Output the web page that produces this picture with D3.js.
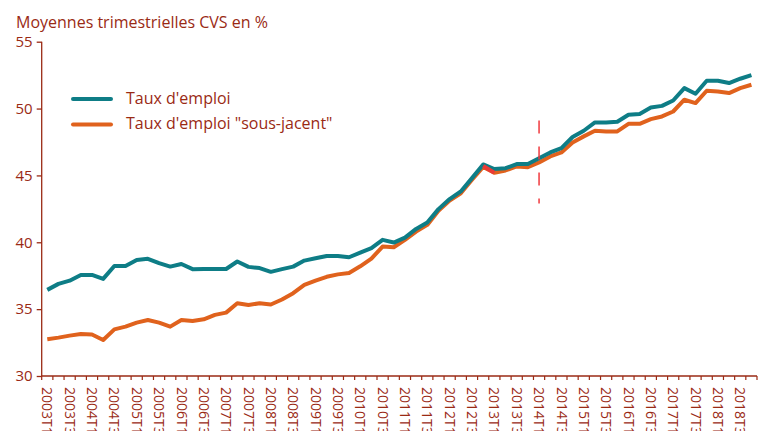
<!DOCTYPE html>
<html>
<head>
<meta charset="utf-8">
<script src="https://cdn.jsdelivr.net/npm/d3@7"></script>
<style>
  body { margin: 0; background: #fff; }
  svg { display: block; font-family: 'Open Sans', 'Noto Sans', sans-serif; }
</style>
</head>
<body>
<div id="chart"></div>
<script>
// quarters 2003T1 .. 2018T4
const quarters = [];
const years = [2003, 2004, 2005, 2006, 2007, 2008, 2009, 2010, 2011, 2012, 2013, 2014, 2015, 2016, 2017, 2018];
years.forEach(y => ['T1', 'T2', 'T3', 'T4'].forEach(q => quarters.push(y + q)));

const tauxEmploi = [
  36.44, 36.89, 37.13, 37.56, 37.56, 37.26, 38.23, 38.23,
  38.68, 38.76, 38.44, 38.18, 38.38, 37.99, 38.0, 38.0,
  38.0, 38.56, 38.16, 38.07, 37.79, 37.99, 38.18, 38.63,
  38.81, 38.98, 38.98, 38.88, 39.23, 39.56, 40.18, 39.98,
  40.35, 41.0, 41.48, 42.48, 43.23, 43.8, 44.8, 45.82,
  45.48, 45.54, 45.85, 45.85, 46.29, 46.72, 47.04, 47.87,
  48.34, 48.96, 48.96, 49.01, 49.54, 49.6, 50.08, 50.2,
  50.6, 51.53, 51.11, 52.08, 52.08, 51.91, 52.23, 52.5
];

const tauxSousJacent = [
  32.75, 32.87, 33.02, 33.14, 33.1, 32.69, 33.49, 33.69,
  33.99, 34.19, 33.99, 33.69, 34.19, 34.12, 34.24, 34.57,
  34.74, 35.44, 35.31, 35.44, 35.35, 35.72, 36.19, 36.81,
  37.13, 37.42, 37.6, 37.71, 38.2, 38.78, 39.68, 39.63,
  40.18, 40.8, 41.3, 42.35, 43.12, 43.67, 44.67, 45.64,
  45.2, 45.37, 45.67, 45.62, 45.97, 46.42, 46.72, 47.47,
  47.92, 48.34, 48.29, 48.29, 48.86, 48.86, 49.21, 49.41,
  49.78, 50.66, 50.41, 51.33, 51.28, 51.16, 51.53, 51.78
];

// small red piece drawn over the orange line
const redQuarters = ['2012T4', '2013T1'];
const redValues = [45.7, 45.2];

// vertical dashed marker
const markerQuarter = '2014T1';
const markerRange = [42.9, 49.1];

const yTicks = [30, 35, 40, 45, 50, 55];
const tickLabels = quarters.filter((d, i) => i % 2 === 0);

const legendLabels = ["Taux d'emploi", 'Taux d\'emploi "sous-jacent"'];

const W = 769, H = 431;
const axisColor = '#9a2a14';
const tealColor = '#0e7d86';
const orangeColor = '#e0621d';

const svg = d3.select('#chart').append('svg')
  .attr('width', W)
  .attr('height', H);

const x = d3.scaleBand()
  .domain(quarters)
  .range([41.7, 757]);

const y = d3.scaleLinear()
  .domain([30, 55])
  .range([376, 41.7]);

const cx = d => x(d) + x.bandwidth() / 2;

// title
svg.append('text')
  .attr('x', 16)
  .attr('y', 28)
  .attr('fill', axisColor)
  .style('font-size', '16px')
  .text('Moyennes trimestrielles CVS en %');

// y axis
const yAxis = svg.append('g')
  .attr('transform', 'translate(41.7,0)')
  .call(d3.axisLeft(y).tickValues(yTicks).tickSize(5).tickPadding(4));
yAxis.selectAll('path, line').attr('stroke', axisColor).attr('stroke-width', 1.3);
yAxis.select('.domain').attr('d', 'M0,' + y(55) + 'V' + y(30));
yAxis.selectAll('text')
  .attr('fill', axisColor)
  .style('font-size', '15px')
  .style('font-family', "'Open Sans', sans-serif");

// x axis: ticks at band boundaries
const xAxis = svg.append('g').attr('transform', 'translate(0,376)');
xAxis.append('line')
  .attr('x1', x.range()[0]).attr('x2', x.range()[1])
  .attr('stroke', axisColor).attr('stroke-width', 1.3);
xAxis.selectAll('.tick-mark')
  .data(quarters.concat(['end']))
  .enter().append('line')
  .attr('x1', (d, i) => x.range()[0] + i * x.step())
  .attr('x2', (d, i) => x.range()[0] + i * x.step())
  .attr('y1', 0).attr('y2', 4)
  .attr('stroke', axisColor).attr('stroke-width', 1.2);
xAxis.selectAll('.lab')
  .data(tickLabels)
  .enter().append('text')
  .attr('transform', d => 'translate(' + cx(d) + ',11) rotate(90)')
  .attr('dy', '0.35em')
  .attr('fill', axisColor)
  .style('font-size', '14px')
  .text(d => d);

// lines
const line = d3.line()
  .x(d => cx(d.q))
  .y(d => y(d.v));

const series = [
  { values: tauxSousJacent, color: orangeColor },
  { values: tauxEmploi, color: tealColor }
];

svg.selectAll('.serie')
  .data(series)
  .enter().append('path')
  .attr('d', s => line(s.values.map((v, i) => ({ q: quarters[i], v: v }))))
  .attr('fill', 'none')
  .attr('stroke', s => s.color)
  .attr('stroke-width', 4)
  .attr('stroke-linejoin', 'round');

svg.append('path')
  .attr('d', line(redValues.map((v, i) => ({ q: redQuarters[i], v: v }))))
  .attr('fill', 'none')
  .attr('stroke', '#ea3a36')
  .attr('stroke-width', 4);

// dashed marker
svg.append('line')
  .attr('x1', cx(markerQuarter)).attr('x2', cx(markerQuarter))
  .attr('y1', y(markerRange[1])).attr('y2', y(markerRange[0]))
  .attr('stroke', '#f03a3e')
  .attr('stroke-width', 1.5)
  .attr('stroke-dasharray', '13,13');

// legend
const legend = svg.append('g');
[tealColor, orangeColor].forEach((c, i) => {
  legend.append('line')
    .attr('x1', 73).attr('x2', 111)
    .attr('y1', 99 + i * 25.5).attr('y2', 99 + i * 25.5)
    .attr('stroke', c).attr('stroke-width', 4)
    .attr('stroke-linecap', 'round');
  legend.append('text')
    .attr('x', 126)
    .attr('y', 104 + i * 25)
    .attr('fill', axisColor)
    .style('font-size', '16px')
    .text(legendLabels[i]);
});
</script>
</body>
</html>
